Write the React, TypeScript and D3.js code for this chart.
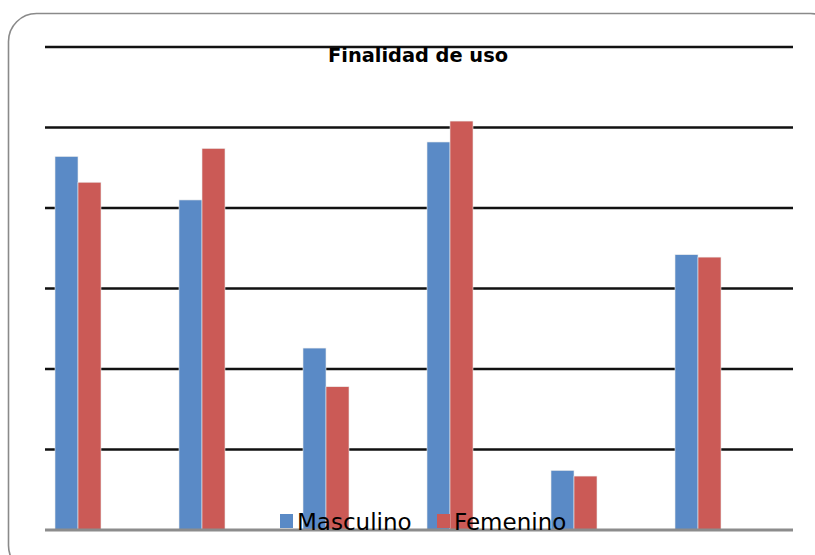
import React from "react";
import { scaleBand, scaleLinear } from "d3";

// categories have no visible labels in the picture
const categories = ["c1", "c2", "c3", "c4", "c5", "c6"];
const series = ["Masculino", "Femenino"];
const masculino = [23.2, 20.5, 11.3, 24.1, 3.7, 17.1];
const femenino = [21.6, 23.7, 8.9, 25.4, 3.35, 16.95];
const gridTicks = [5, 10, 15, 20, 25, 30];
const colors = ["#5A8AC6", "#CB5A56"];

const W = 815;
const H = 555;

export default function App() {
  const x = scaleBand<string>()
    .domain(categories)
    .range([55, 55 + 124 * categories.length]);
  const inner = scaleBand<string>().domain(series).range([0, 46]);
  const y = scaleLinear().domain([0, 30]).range([530, 47]);
  const values = [masculino, femenino];

  return (
    <svg
      width={W}
      height={H}
      style={{ position: "absolute", left: 0, top: 0, background: "#fff" }}
    >
      <rect
        x={8.5}
        y={13.5}
        width={830}
        height={560}
        rx={28}
        fill="#fff"
        stroke="#8a8a8a"
        strokeWidth={1.6}
      />
      {/* gridlines */}
      {gridTicks.map((t) => (
        <line
          key={t}
          x1={45}
          x2={793}
          y1={y(t)}
          y2={y(t)}
          stroke="#111"
          strokeWidth={2.6}
        />
      ))}
      {/* bars */}
      {categories.map((c, i) => (
        <g key={c} transform={`translate(${x(c)},0)`}>
          {series.map((s, j) => (
            <rect
              key={s}
              x={inner(s)}
              y={y(values[j][i])}
              width={inner.bandwidth()}
              height={y(0) - y(values[j][i])}
              fill={colors[j]}
              stroke="#ececec"
              strokeWidth={0.6}
            />
          ))}
        </g>
      ))}
      <line
        x1={45}
        x2={793}
        y1={y(0)}
        y2={y(0)}
        stroke="#8c8c8c"
        strokeWidth={3}
      />
      <text
        x={418}
        y={62}
        textAnchor="middle"
        fontFamily="DejaVu Sans"
        fontWeight="bold"
        fontSize={19.5}
        textLength={180}
        lengthAdjust="spacingAndGlyphs"
        fill="#000"
      >
        Finalidad de uso
      </text>
      {/* legend */}
      {series.map((s, j) => {
        const lx = [280, 437][j];
        return (
          <g key={s}>
            <rect x={lx} y={514} width={13} height={14} fill={colors[j]} />
            <text
              x={lx + 17}
              y={530}
              fontFamily="DejaVu Sans"
              fontSize={23}
              fill="#000"
            >
              {s}
            </text>
          </g>
        );
      })}
    </svg>
  );
}
